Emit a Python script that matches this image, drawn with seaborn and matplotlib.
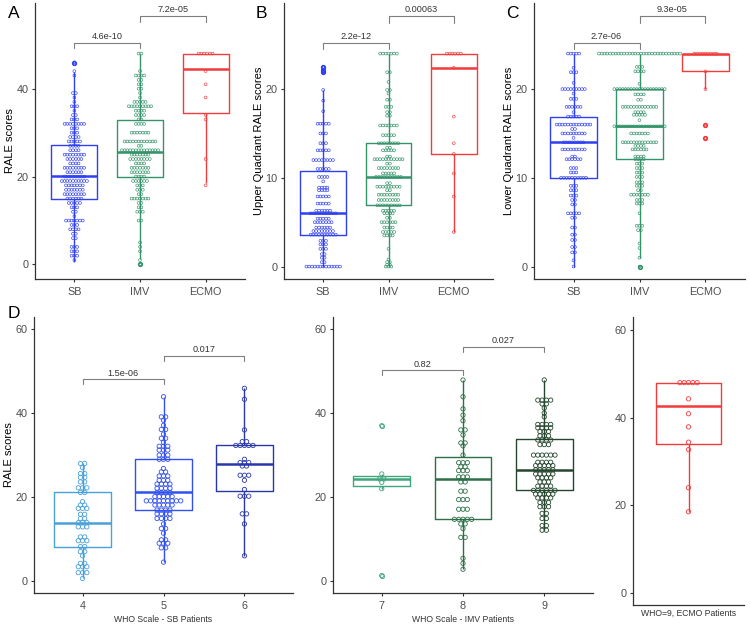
import numpy as np
import pandas as pd
import matplotlib
matplotlib.use("Agg")
import matplotlib.pyplot as plt
import seaborn as sns

# dot stacks: (score, number of dots in that row)

# D: total RALE score by WHO scale
who4 = [(28.0, 2), (27.0, 1), (25.6, 2), (24.7, 2), (23.6, 2), (22.2, 3), (21.1, 2),
        (18.9, 1), (18.1, 2), (17.3, 3), (15.9, 2), (14.9, 2), (13.9, 3), (12.9, 3),
        (10.5, 2), (9.6, 3), (8.2, 2), (7.0, 2), (6.0, 1), (4.2, 2), (3.4, 3),
        (2.0, 3), (0.6, 1)]
who5 = [(43.9, 1), (39.1, 2), (38.3, 1), (37.1, 1), (36.1, 2), (35.0, 1), (34.0, 2),
        (33.0, 1), (32.1, 3), (31.2, 3), (30.0, 3), (29.0, 3), (26.8, 1), (26.0, 2),
        (25.0, 3), (24.0, 3), (23.1, 4), (22.1, 4), (21.1, 4), (20.1, 5), (19.1, 9),
        (18.1, 5), (16.9, 4), (16.0, 4), (14.9, 4), (13.6, 1), (12.5, 2), (11.4, 1),
        (9.8, 2), (9.0, 3), (7.9, 2), (4.5, 1)]
who6 = [(45.9, 1), (43.3, 1), (36.0, 1), (33.2, 2), (32.3, 5), (29.0, 1), (28.2, 3),
        (27.4, 2), (25.2, 3), (24.0, 1), (21.8, 1), (20.2, 3), (16.0, 2), (13.6, 1),
        (6.0, 1)]
who7 = [(37.0, 1), (25.5, 1), (24.3, 2), (23.5, 1), (22.0, 1), (1.3, 1)]
who8 = [(47.9, 1), (43.9, 1), (41.0, 1), (39.5, 1), (38.2, 1), (36.0, 2), (34.8, 1),
        (32.9, 2), (32.2, 1), (30.0, 1), (28.2, 3), (27.2, 2), (26.3, 3), (24.8, 3),
        (23.6, 2), (21.4, 2), (19.4, 3), (17.1, 3), (14.7, 5), (13.6, 2), (12.5, 1),
        (10.4, 2), (5.4, 1), (4.2, 1), (2.8, 1)]
who9 = [(47.9, 1), (43.1, 4), (42.2, 2), (41.2, 1), (40.0, 1), (39.1, 1), (37.3, 4),
        (36.5, 4), (35.6, 3), (34.6, 3), (33.6, 4), (32.5, 3), (30.0, 6), (28.3, 4),
        (27.5, 5), (26.5, 5), (25.5, 5), (24.6, 4), (23.6, 3), (22.6, 4), (21.6, 6),
        (20.7, 5), (19.8, 4), (18.7, 3), (17.7, 3), (16.1, 2), (14.9, 2), (13.2, 2),
        (12.1, 2)]
ecmo_who9 = [(48.0, 5), (44.3, 1), (40.9, 1), (37.9, 1), (34.4, 1), (32.7, 1),
             (24.0, 1), (18.5, 1)]

# A: total RALE score (SB / IMV built from the WHO groups above)
imv_extra = [(0.0, 1)]
ecmo_total = [(48.0, 6), (44.5, 1), (41.0, 1), (38.0, 1), (34.5, 1), (33.0, 1),
              (24.0, 1), (18.5, 1)]

# B: upper quadrant
upper_sb = [(22.5, 1), (22.2, 1), (21.9, 1), (19.9, 1), (18.7, 1), (17.5, 1), (16.1, 5),
            (15.0, 3), (13.9, 3), (13.1, 5), (12.0, 8), (11.0, 5), (10.1, 4), (9.6, 1),
            (8.9, 4), (8.6, 4), (7.9, 5), (7.1, 5), (6.3, 6), (6.0, 10), (5.4, 5),
            (5.0, 7), (4.4, 6), (4.0, 8), (3.6, 10), (2.9, 3), (2.5, 3), (2.0, 3),
            (1.4, 2), (1.0, 2), (0.5, 2), (0.0, 13)]
upper_imv = [(24.0, 7), (21.9, 2), (20.8, 1), (19.9, 2), (19.5, 1), (18.8, 2), (18.0, 3),
             (17.4, 2), (17.0, 2), (15.9, 7), (14.8, 5), (13.9, 8), (13.4, 2), (13.1, 5),
             (12.4, 2), (12.1, 11), (11.6, 2), (11.1, 8), (10.5, 5), (10.1, 10), (9.4, 2),
             (9.0, 9), (8.6, 2), (8.1, 8), (7.5, 8), (6.9, 9), (6.3, 5), (6.0, 4),
             (5.5, 2), (5.0, 6), (4.4, 4), (3.9, 5), (3.5, 4), (2.0, 1), (0.8, 1),
             (0.5, 2), (0.2, 2), (0.0, 3)]
upper_ecmo = [(24.0, 6), (22.4, 1), (16.9, 1), (13.9, 1), (12.7, 1), (10.5, 1),
              (7.9, 1), (3.9, 1)]

# C: lower quadrant
lower_sb = [(24.0, 5), (22.4, 1), (21.9, 3), (20.7, 1), (20.0, 9), (19.5, 1), (18.9, 3),
            (18.0, 6), (17.4, 1), (16.9, 5), (16.0, 13), (15.5, 2), (15.0, 9), (14.5, 1),
            (14.0, 8), (13.2, 9), (12.4, 2), (12.1, 6), (11.1, 3), (10.6, 3), (10.0, 10),
            (9.1, 3), (8.6, 3), (8.0, 3), (7.5, 2), (7.0, 2), (6.0, 5), (5.5, 2),
            (4.4, 2), (3.6, 2), (3.0, 2), (2.2, 2), (1.6, 2), (0.7, 1), (0.0, 1)]
lower_imv = [(24.0, 30), (22.5, 3), (22.0, 4), (20.6, 1), (20.0, 19), (19.4, 4),
             (18.8, 2), (18.0, 13), (17.4, 4), (17.1, 5), (16.5, 1), (15.8, 19),
             (15.0, 7), (14.0, 13), (13.6, 4), (13.2, 6), (12.4, 4), (12.1, 4),
             (11.6, 3), (11.1, 3), (10.6, 3), (10.1, 3), (9.5, 3), (9.1, 3), (8.6, 2),
             (8.1, 7), (7.5, 3), (7.1, 3), (6.0, 1), (4.6, 3), (4.1, 2), (2.6, 1),
             (2.1, 1), (1.0, 1), (0.0, 1)]
lower_ecmo = [(24.0, 9), (22.0, 1), (20.0, 1), (16.0, 1), (14.5, 1)]

# p-values of the pairwise tests
p_total = ["4.6e-10", "7.2e-05"]
p_upper = ["2.2e-12", "0.00063"]
p_lower = ["2.7e-06", "9.3e-05"]
p_sb = ["1.5e-06", "0.017"]
p_imv = ["0.82", "0.027"]

c_sb, c_imv, c_ecmo = "#2f3ff2", "#34936a", "#f23b3b"
c_who = {"4": "#4aa0d8", "5": "#3050f2", "6": "#2a37a8",
         "7": "#3fa57e", "8": "#2d6f47", "9": "#26472e", "9 ": c_ecmo}


def expand(pairs):
    return np.repeat([v for v, n in pairs], [n for v, n in pairs]).astype(float)


W, H = 750, 626
sns.set_style("ticks")
plt.rcParams["font.family"] = ["Liberation Sans", "DejaVu Sans"]
fig = plt.figure(figsize=(W / 100, H / 100), dpi=100)


def make_ax(left, right, top, bottom):
    return fig.add_axes([left / W, 1 - bottom / H, (right - left) / W, (bottom - top) / H])


def panel(ax, groups, colors, ylim, yticks, dot_px, binwidth=None, ylabel=None, xlabel=None):
    names = list(groups)
    big = dot_px > 3
    df = pd.concat([pd.DataFrame({"group": k, "value": expand(v)}) for k, v in groups.items()])
    fl = ({"marker": "o", "markersize": dot_px / 1.389, "markeredgewidth": 0.6}
          if big else {"marker": "o", "markersize": 2.6, "markeredgewidth": 1.2})
    sns.boxplot(data=df, x="group", y="value", hue="group", order=names, hue_order=names,
                palette=colors, fill=False, width=0.7, linewidth=1.0, showcaps=False,
                medianprops={"linewidth": 1.8}, flierprops=fl,
                legend=False, ax=ax)
    ax.set_xlim(-0.6, len(names) - 0.4)
    ax.set_ylim(*ylim)
    fig.canvas.draw()
    px_per_x = ax.get_window_extent().width / (len(names) - 0.4 + 0.6)
    dx = dot_px / px_per_x
    for i, k in enumerate(names):
        vals = expand(groups[k])
        if binwidth:
            vals = np.round(vals / binwidth) * binwidth
        rv, rn = np.unique(np.round(vals, 2), return_counts=True)
        xs, ys = [], []
        for v, n in zip(rv, rn):
            xs.extend(i + (np.arange(n) - (n - 1) / 2) * dx)
            ys.extend([v] * n)
        sns.scatterplot(x=xs, y=ys, color=colors[k], edgecolor=colors[k], facecolor="none",
                        s=(dot_px / 1.389) ** 2, linewidth=0.6 if big else 0.45,
                        marker="o", legend=False, ax=ax, zorder=3)
    ax.set_xticks(range(len(names)))
    ax.set_xticklabels([n.strip() for n in names])
    ax.set_yticks(yticks)
    ax.set_ylabel(ylabel if ylabel else "", fontsize=8, color="black", labelpad=1.5)
    ax.set_xlabel(xlabel if xlabel else "", fontsize=6.2, color="#333333", labelpad=3)
    sns.despine(ax=ax)
    for s in ("left", "bottom"):
        ax.spines[s].set_linewidth(0.9)
        ax.spines[s].set_color("#333333")
    ax.tick_params(length=2.5, width=0.8, color="#333333", labelsize=7.8,
                   labelcolor="#4d4d4d", pad=2)
    ax.tick_params(axis="x", pad=3)


def bracket(ax, x1, x2, y, tip, text):
    ax.plot([x1, x1, x2, x2], [y - tip, y, y, y - tip], color="#7f7f7f", lw=0.8,
            clip_on=False)
    ax.text((x1 + x2) / 2, y + tip * 0.35, text, ha="center", va="bottom",
            fontsize=6.6, color="#333333")


top_colors = {"SB": c_sb, "IMV": c_imv, "ECMO": c_ecmo}

axA = make_ax(35, 245, 3, 279)
panel(axA, {"SB": who4 + who5 + who6, "IMV": who7 + who8 + who9 + imv_extra,
            "ECMO": ecmo_total}, top_colors, (-3.3, 59.5), [0, 20, 40], 2.8,
      binwidth=1.0, ylabel="RALE scores")
bracket(axA, 0, 1, 50.5, 1.3, p_total[0])
bracket(axA, 1, 2, 56.6, 1.4, p_total[1])

axB = make_ax(284, 493, 3, 279)
panel(axB, {"SB": upper_sb, "IMV": upper_imv, "ECMO": upper_ecmo}, top_colors,
      (-1.4, 29.7), [0, 10, 20], 2.8, ylabel="Upper Quadrant RALE scores")
bracket(axB, 0, 1, 25.2, 0.7, p_upper[0])
bracket(axB, 1, 2, 28.2, 0.7, p_upper[1])

axC = make_ax(534, 745, 3, 279)
panel(axC, {"SB": lower_sb, "IMV": lower_imv, "ECMO": lower_ecmo}, top_colors,
      (-1.4, 29.7), [0, 10, 20], 2.8, ylabel="Lower Quadrant RALE scores")
bracket(axC, 0, 1, 25.2, 0.7, p_lower[0])
bracket(axC, 1, 2, 28.2, 0.7, p_lower[1])

axD1 = make_ax(34, 293, 317, 593)
panel(axD1, {"4": who4, "5": who5, "6": who6}, c_who, (-2.86, 62.9), [0, 20, 40, 60], 4.3,
      ylabel="RALE scores", xlabel="WHO Scale - SB Patients")
bracket(axD1, 0, 1, 48.1, 1.1, p_sb[0])
bracket(axD1, 1, 2, 53.6, 1.3, p_sb[1])

axD2 = make_ax(333, 593, 317, 593)
panel(axD2, {"7": who7, "8": who8, "9": who9}, c_who, (-2.86, 62.9), [0, 20, 40, 60], 4.3,
      xlabel="WHO Scale - IMV Patients")
bracket(axD2, 0, 1, 50.2, 1.2, p_imv[0])
bracket(axD2, 1, 2, 55.8, 1.3, p_imv[1])

axD3 = make_ax(633, 744, 317, 605)
panel(axD3, {"9 ": ecmo_who9}, c_who, (-2.8, 63.0), [0, 20, 40, 60], 4.3,
      xlabel="WHO=9, ECMO Patients")
axD3.set_xticks([])

for label, x, y in [("A", 8, 18), ("B", 256, 18), ("C", 506, 18), ("D", 8, 318)]:
    fig.text(x / W, 1 - y / H, label, fontsize=12.5, color="black", ha="left", va="baseline")

fig.savefig("out.png", dpi=100)
